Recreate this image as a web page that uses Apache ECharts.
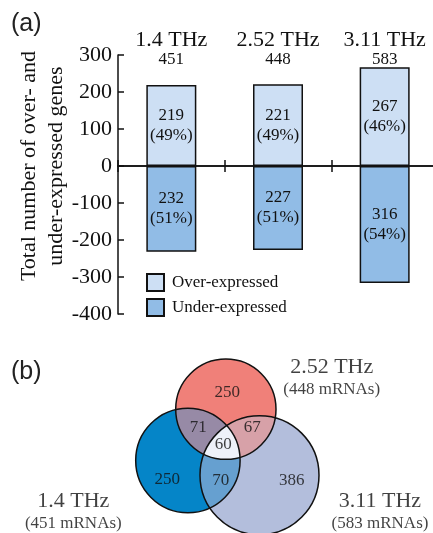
<!DOCTYPE html>
<html><head><meta charset="utf-8">
<script src="https://cdn.jsdelivr.net/npm/echarts@6/dist/echarts.min.js"></script>
<style>html,body{margin:0;padding:0;background:#fff}#c{width:433px;height:533px}</style>
</head><body><div id="c"></div>
<script>
// ---------- Panel (a) data ----------
const categories = ['1.4 THz', '2.52 THz', '3.11 THz'];
const overExpressed = [219, 221, 267];
const underExpressed = [232, 227, 316];
const yMin = -400, yMax = 300, yInterval = 100;
const seriesNames = ['Over-expressed', 'Under-expressed'];

// ---------- Panel (b) data ----------
const vennSetNames = ['1.4 THz', '2.52 THz', '3.11 THz'];
const vennTotals = [451, 448, 583];
const vennOnly = [250, 250, 386];          // only 1.4, only 2.52, only 3.11
const vennPairs = [71, 67, 70];             // 1.4∩2.52, 2.52∩3.11, 1.4∩3.11
const vennAll = 60;

// Venn layout (drawing space of the venn grid)
const vennCircles = [
  { x: 187.9, y: 130.5, r: 52.2 },
  { x: 225.85, y: 79.2, r: 50.15 },
  { x: 259.5, y: 145.2, r: 59.5 }
];
const vennOnlyAnchors = [[167.3, 150], [227.3, 62.3], [291.7, 151]];
const vennPairAnchors = [[198.3, 97.7], [252.3, 97.7], [220.7, 151]];
const vennAllAnchor = [223.3, 114.3];
const vennSetAnchors = [[73.3, 182.2], [331.7, 48.6], [380, 182.2]];

const SERIF = 'Liberation Serif';
const barColors = ['#cddff4', '#91bce6'];
const vennColors = {
  single: ['#0585c8', '#f08079', '#b3bedc'],
  pairs: ['#978aa6', '#d7a1a8', '#66a0d0'],
  all: '#eef1f9'
};
const pairSets = [[0, 1], [1, 2], [0, 2]];

const totals = overExpressed.map((v, i) => v + underExpressed[i]);

const regionDefs = [
  { sets: [0], color: vennColors.single[0] },
  { sets: [1], color: vennColors.single[1] },
  { sets: [2], color: vennColors.single[2] },
  { sets: pairSets[0], color: vennColors.pairs[0] },
  { sets: pairSets[1], color: vennColors.pairs[1] },
  { sets: pairSets[2], color: vennColors.pairs[2] },
  { sets: [0, 1, 2], color: vennColors.all }
];

function pixelCircles(api) {
  return vennCircles.map(c => {
    const p = api.coord([c.x, c.y]);
    return { x: p[0], y: p[1], r: api.size([c.r, 0])[0] };
  });
}

function regionPolygon(circles, sets) {
  const pts = [];
  const N = 720;
  sets.forEach(si => {
    const c = circles[si];
    for (let k = 0; k < N; k++) {
      const a = (k / N) * Math.PI * 2;
      const px = c.x + c.r * Math.cos(a), py = c.y + c.r * Math.sin(a);
      let inside = true;
      sets.forEach(sj => {
        if (sj === si) return;
        const o = circles[sj];
        if (Math.hypot(px - o.x, py - o.y) > o.r + 1e-6) inside = false;
      });
      if (inside) pts.push([px, py]);
    }
  });
  let mx = 0, my = 0;
  pts.forEach(p => { mx += p[0]; my += p[1]; });
  mx /= pts.length; my /= pts.length;
  pts.sort((a, b) => Math.atan2(a[1] - my, a[0] - mx) - Math.atan2(b[1] - my, b[0] - mx));
  return pts;
}

const labelStyle = { fontFamily: SERIF, fontSize: 17, color: '#111', lineHeight: 20 };

const vennLabelData = [];
vennOnly.forEach((v, i) => vennLabelData.push({ value: vennOnlyAnchors[i], name: String(v) }));
vennPairs.forEach((v, i) => vennLabelData.push({ value: vennPairAnchors[i], name: String(v) }));
vennLabelData.push({ value: vennAllAnchor, name: String(vennAll) });

const vennSetLabelData = vennSetNames.map((n, i) => ({
  value: vennSetAnchors[i],
  name: '{a|' + n + '}\n{b|(' + vennTotals[i] + ' mRNAs)}'
}));

const chart = echarts.init(document.getElementById('c'), null, { renderer: 'canvas' });
chart.setOption({
  animation: false,
  backgroundColor: '#fff',
  graphic: [
    { type: 'text', x: 11, y: 24, style: { text: '(a)', fontSize: 25, fontFamily: 'Liberation Sans', fill: '#222', verticalAlign: 'middle' } },
    { type: 'text', x: 11, y: 372, style: { text: '(b)', fontSize: 25, fontFamily: 'Liberation Sans', fill: '#222', verticalAlign: 'middle' } }
  ],
  legend: {
    data: seriesNames,
    orient: 'vertical',
    left: 146, top: 273, padding: 0,
    itemWidth: 17, itemHeight: 17, itemGap: 6,
    icon: 'rect',
    selectedMode: false,
    textStyle: { fontFamily: SERIF, fontSize: 17, color: '#111', padding: [0, 0, 0, 3] }
  },
  grid: [
    { left: 118, top: 55, width: 320, height: 259, outerBoundsMode: 'none', containLabel: false },
    { left: 0, top: 330, width: 433, height: 203, outerBoundsMode: 'none', containLabel: false }
  ],
  xAxis: [
    { type: 'category', gridIndex: 0, data: categories, position: 'bottom',
      axisLine: { onZero: true, onZeroAxisIndex: 0, lineStyle: { color: '#111', width: 1.5 } },
      axisTick: { show: true, inside: false, length: 6, interval: 0, lineStyle: { color: '#111', width: 1.5 } },
      axisLabel: { show: false }, splitLine: { show: false } },
    { type: 'category', gridIndex: 0, data: categories, position: 'bottom',
      axisLine: { onZero: true, onZeroAxisIndex: 0, lineStyle: { color: '#111', width: 1.5 } },
      axisTick: { show: true, inside: true, length: 6, interval: 0, lineStyle: { color: '#111', width: 1.5 } },
      axisLabel: { show: false }, splitLine: { show: false } },
    { type: 'category', gridIndex: 0, data: categories, position: 'top',
      axisLine: { show: false, onZero: false }, axisTick: { show: false }, splitLine: { show: false },
      axisLabel: { show: true, margin: -15, interval: 0,
        formatter: (v, i) => '{a|' + v + '}\n{b|' + totals[i] + '}',
        rich: {
          a: { fontFamily: SERIF, fontSize: 22, color: '#111', lineHeight: 20 },
          b: { fontFamily: SERIF, fontSize: 17, color: '#111', lineHeight: 20 }
        } } },
    { type: 'value', gridIndex: 1, min: 0, max: 433, show: false }
  ],
  yAxis: [
    { type: 'value', gridIndex: 0, min: yMin, max: yMax, interval: yInterval,
      name: 'Total number of over- and\nunder-expressed genes',
      nameLocation: 'middle', nameGap: 48, nameRotate: 90, nameMoveOverlap: false,
      nameTextStyle: { fontFamily: SERIF, fontSize: 22, color: '#111', lineHeight: 27, padding: [0, 0, 0, 37] },
      axisLine: { show: true, lineStyle: { color: '#111', width: 1.5 } },
      axisTick: { show: true, inside: true, length: 6, lineStyle: { color: '#111', width: 1.5 } },
      axisLabel: { margin: 6, fontFamily: SERIF, fontSize: 22, color: '#111' },
      splitLine: { show: false } },
    { type: 'value', gridIndex: 1, min: 0, max: 203, inverse: true, show: false }
  ],
  series: [
    { name: seriesNames[0], type: 'bar', stack: 'g', xAxisIndex: 0, yAxisIndex: 0,
      data: overExpressed, barWidth: 50,
      itemStyle: { color: barColors[0], borderColor: '#111', borderWidth: 1.5 },
      label: { show: true, position: 'inside', ...labelStyle,
        formatter: p => overExpressed[p.dataIndex] + '\n(' + Math.round(100 * overExpressed[p.dataIndex] / totals[p.dataIndex]) + '%)' } },
    { name: seriesNames[1], type: 'bar', stack: 'g', xAxisIndex: 0, yAxisIndex: 0,
      data: underExpressed.map(v => -v), barWidth: 50,
      itemStyle: { color: barColors[1], borderColor: '#111', borderWidth: 1.5 },
      label: { show: true, position: 'inside', ...labelStyle,
        formatter: p => underExpressed[p.dataIndex] + '\n(' + Math.round(100 * underExpressed[p.dataIndex] / totals[p.dataIndex]) + '%)' } },
    { name: 'vennFill', type: 'custom', coordinateSystem: 'cartesian2d', xAxisIndex: 3, yAxisIndex: 1, z: 2,
      data: regionDefs.map((d, i) => [i]),
      renderItem: (params, api) => {
        const def = regionDefs[params.dataIndex];
        const circles = pixelCircles(api);
        if (def.sets.length === 1) {
          const c = circles[def.sets[0]];
          return { type: 'circle', shape: { cx: c.x, cy: c.y, r: c.r }, style: { fill: def.color } };
        }
        return { type: 'polygon', shape: { points: regionPolygon(circles, def.sets) }, style: { fill: def.color } };
      } },
    { name: 'vennOutline', type: 'custom', coordinateSystem: 'cartesian2d', xAxisIndex: 3, yAxisIndex: 1, z: 3,
      data: vennCircles.map((c, i) => [i]),
      renderItem: (params, api) => {
        const c = pixelCircles(api)[params.dataIndex];
        return { type: 'circle', shape: { cx: c.x, cy: c.y, r: c.r }, style: { fill: 'none', stroke: '#111', lineWidth: 1.5 } };
      } },
    { name: 'vennCounts', type: 'scatter', xAxisIndex: 3, yAxisIndex: 1, z: 4,
      symbolSize: 0.1, itemStyle: { color: 'rgba(0,0,0,0)' },
      data: vennLabelData,
      label: { show: true, position: 'inside', formatter: '{b}', fontFamily: SERIF, fontSize: 17, color: '#111' } },
    { name: 'vennSets', type: 'scatter', xAxisIndex: 3, yAxisIndex: 1, z: 4,
      symbolSize: 0.1, itemStyle: { color: 'rgba(0,0,0,0)' },
      data: vennSetLabelData,
      label: { show: true, position: 'inside', formatter: '{b}',
        rich: {
          a: { fontFamily: SERIF, fontSize: 22, color: '#111', lineHeight: 22 },
          b: { fontFamily: SERIF, fontSize: 17, color: '#111', lineHeight: 22 }
        } } }
  ]
});
</script></body></html>
